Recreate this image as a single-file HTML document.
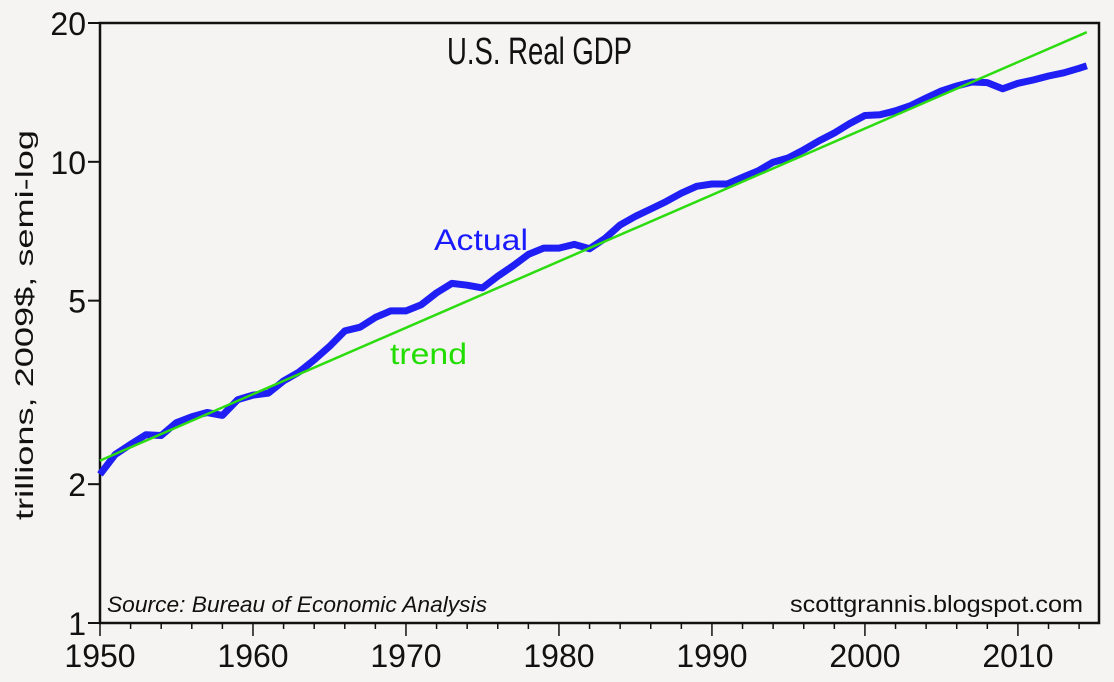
<!DOCTYPE html>
<html><head><meta charset="utf-8"><style>
html,body{margin:0;padding:0;background:#f5f4f2;}
svg{display:block;font-family:"Liberation Sans",sans-serif;}
</style></head><body>
<svg width="1114" height="682" viewBox="0 0 1114 682">
<rect x="0" y="0" width="1114" height="682" fill="#f5f4f2"/>
<rect x="100" y="23" width="999" height="600" fill="none" stroke="#111" stroke-width="2.5"/>
<g id="marks"></g>
<g id="axes"></g>
<text x="447" y="64" font-size="38" textLength="185" lengthAdjust="spacingAndGlyphs" fill="#111">U.S. Real GDP</text>
<text transform="translate(33,520) rotate(-90)" font-size="25" textLength="390" lengthAdjust="spacingAndGlyphs" fill="#111">trillions, 2009$, semi-log</text>
<text x="434" y="250" font-size="30" textLength="94" lengthAdjust="spacingAndGlyphs" fill="#1a1aff">Actual</text>
<text x="390" y="364" font-size="30" textLength="77" lengthAdjust="spacingAndGlyphs" fill="#22dd00">trend</text>
<text x="107" y="612" font-size="22" font-style="italic" textLength="380" lengthAdjust="spacingAndGlyphs" fill="#111">Source:  Bureau of Economic Analysis</text>
<text x="790" y="612" font-size="23" textLength="293" lengthAdjust="spacingAndGlyphs" fill="#111">scottgrannis.blogspot.com</text>
</svg>
<script>
const years=[1950,1951,1952,1953,1954,1955,1956,1957,1958,1959,1960,1961,1962,1963,1964,1965,1966,1967,1968,1969,1970,1971,1972,1973,1974,1975,1976,1977,1978,1979,1980,1981,1982,1983,1984,1985,1986,1987,1988,1989,1990,1991,1992,1993,1994,1995,1996,1997,1998,1999,2000,2001,2002,2003,2004,2005,2006,2007,2008,2009,2010,2011,2012,2013,2014,2014.5];
const actual=[2.1,2.32,2.44,2.56,2.55,2.72,2.8,2.86,2.82,3.05,3.12,3.15,3.35,3.5,3.72,3.98,4.3,4.38,4.6,4.75,4.75,4.9,5.2,5.45,5.4,5.33,5.65,5.95,6.3,6.5,6.5,6.62,6.48,6.82,7.3,7.62,7.9,8.2,8.55,8.85,8.95,8.95,9.25,9.55,9.98,10.2,10.62,11.1,11.55,12.1,12.6,12.65,12.9,13.25,13.75,14.25,14.6,14.9,14.85,14.4,14.8,15.05,15.35,15.6,15.95,16.15];
const trendYears=[1950,2014.5];
const trendVals=[2.25,19.1];
const yTicks=[1,2,5,10,20];
const xTicks=[1950,1960,1970,1980,1990,2000,2010];
const X0=100,X1=1099,Y0=623,Y1=23,XMIN=1950,XMAX=2015.3,LMIN=0,LMAX=Math.log10(20);
function xs(v){return X0+(v-XMIN)/(XMAX-XMIN)*(X1-X0);}
function ys(v){return Y0-(Math.log10(v)-LMIN)/(LMAX-LMIN)*(Y0-Y1);}
const NS="http://www.w3.org/2000/svg";
const marks=document.getElementById('marks'),axes=document.getElementById('axes');
function mk(tag,attrs,parent){const e=document.createElementNS(NS,tag);for(const k in attrs)e.setAttribute(k,attrs[k]);parent.appendChild(e);return e;}
let d=actual.map((v,i)=>(i?'L':'M')+xs(years[i]).toFixed(1)+','+ys(v).toFixed(1)).join('');
const al=mk('path',{d:d,fill:'none',stroke:'#1e1ef5','stroke-width':7,'stroke-linejoin':'round'},marks);


let t=trendVals.map((v,i)=>(i?'L':'M')+xs(trendYears[i]).toFixed(1)+','+ys(v).toFixed(1)).join('');
const tl=mk('path',{d:t,fill:'none',stroke:'#2ddc10','stroke-width':2.5},marks);


yTicks.forEach(v=>{
 const y=ys(v);
 const l=mk('line',{x1:88,x2:100,y1:y,y2:y,stroke:'#111','stroke-width':2},axes);
 
 
 const tx=mk('text',{x:86,y:y+12,'font-size':32,'text-anchor':'end',fill:'#111'},axes);
 tx.textContent=v;
 
 
});
for(let yr=1950;yr<=2014;yr+=2){
 const x=xs(yr),maj=yr%10===0;
 const l=mk('line',{x1:x,x2:x,y1:623,y2:maj?636:629,stroke:'#111','stroke-width':1.5},axes);
 
 
}
xTicks.forEach(v=>{
 const tx=mk('text',{x:xs(v),y:667,'font-size':32,'text-anchor':'middle',fill:'#111'},axes);
 tx.textContent=v;
 
 
});
</script>
</body></html>
